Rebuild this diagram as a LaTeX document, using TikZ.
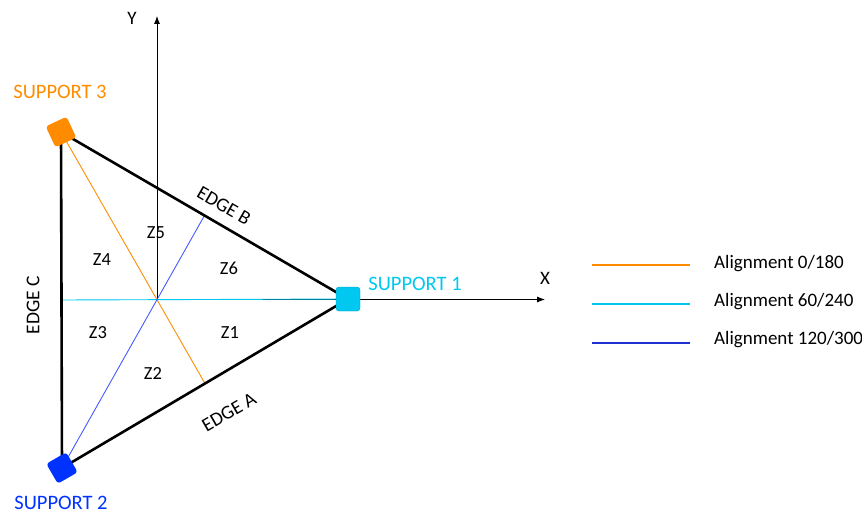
\documentclass[tikz,border=0pt]{standalone}
\usepackage{fontspec}
\setmainfont{Carlito}
\usetikzlibrary{arrows.meta,calc}
\definecolor{corange}{RGB}{255,140,0}
\definecolor{ccyan}{RGB}{0,200,240}
\definecolor{cblue}{RGB}{0,50,255}
\definecolor{clblue}{RGB}{70,90,255}
\definecolor{cdblue}{RGB}{30,50,210}
\begin{document}
\begin{tikzpicture}[x=1pt,y=-1pt,
  supp/.style={rounded corners=3pt,minimum size=23pt,inner sep=0pt},
  edgeline/.style={line width=2.6pt,black},
  axis/.style={line width=0.8pt,-{Latex[length=8pt,width=6pt]}},
  slbl/.style={font=\fontsize{20.5}{22}\selectfont},
  lbl/.style={font=\fontsize{19}{21}\selectfont},
  elbl/.style={font=\fontsize{19.5}{21}\selectfont},
  zlbl/.style={font=\fontsize{18.5}{20}\selectfont},
  legline/.style={line width=1.1pt}]
\useasboundingbox (0,0) rectangle (862,516);
% vertices
\coordinate (A3) at (61,132);
\coordinate (A2) at (62,468);
\coordinate (A1) at (348,299);
\coordinate (O) at (157,299.5);
\coordinate (mA) at ($(A1)!0.5!(A2)$);
\coordinate (mB) at ($(A3)!0.5!(A1)$);
\coordinate (mC) at ($(A3)!0.5!(A2)$);
\coordinate (xend) at (545,299.5);
\coordinate (ytop) at (157,16);
% axes
\draw[axis] (O) -- (xend);
\draw[axis] (O) -- (ytop);
% alignment lines
\draw[corange,line width=0.9pt] (A3) -- (mA);
\draw[ccyan,line width=0.9pt] (mC) -- (A1);
\draw[clblue,line width=0.9pt] (A2) -- (mB);
% edges
\draw[edgeline] (A3) -- (A1) -- (A2) -- cycle;
% supports
\node[supp,fill=corange,rotate=25] (s3) at (A3) {};
\node[supp,fill=cblue,rotate=30] (s2) at (A2) {};
\node[supp,fill=ccyan,draw=ccyan!80!black,line width=0.4pt,minimum size=24pt] (s1) at (A1) {};
% labels
\node[slbl,text=corange] (t3) at (60,92) {SUPPORT 3};
\node[slbl,text=cblue] (t2) at (61,503) {SUPPORT 2};
\node[slbl,text=ccyan] (t1) at (415,284) {SUPPORT 1};
\node[lbl] (tx) at (545,278) {X};
\node[lbl] (ty) at (132,18) {Y};
\node[elbl,rotate=-30] (eb) at (224,206) {EDGE B};
\node[elbl,rotate=30] (ea) at (229,412) {EDGE A};
\node[elbl,rotate=90] (ec) at (33,305) {EDGE C};
\node[zlbl] (z5) at (156,233) {Z5};
\node[zlbl] (z4) at (102,260) {Z4};
\node[zlbl] (z6) at (229,268) {Z6};
\node[zlbl] (z3) at (98,333) {Z3};
\node[zlbl] (z1) at (230,333) {Z1};
\node[zlbl] (z2) at (153,373) {Z2};
% legend
\coordinate (l1a) at (592,265); \coordinate (l1b) at (690,265);
\coordinate (l2a) at (592,304); \coordinate (l2b) at (690,304);
\coordinate (l3a) at (592,343); \coordinate (l3b) at (690,343);
\draw[legline,corange] (l1a) -- (l1b);
\draw[legline,ccyan] (l2a) -- (l2b);
\draw[legline,cdblue] (l3a) -- (l3b);
\node[lbl,anchor=west,inner sep=0pt] (g1) at (714,264) {Alignment 0/180};
\node[lbl,anchor=west,inner sep=0pt] (g2) at (714,302) {Alignment 60/240};
\node[lbl,anchor=west,inner sep=0pt] (g3) at (714,340) {Alignment 120/300};
\end{tikzpicture}
\end{document}
